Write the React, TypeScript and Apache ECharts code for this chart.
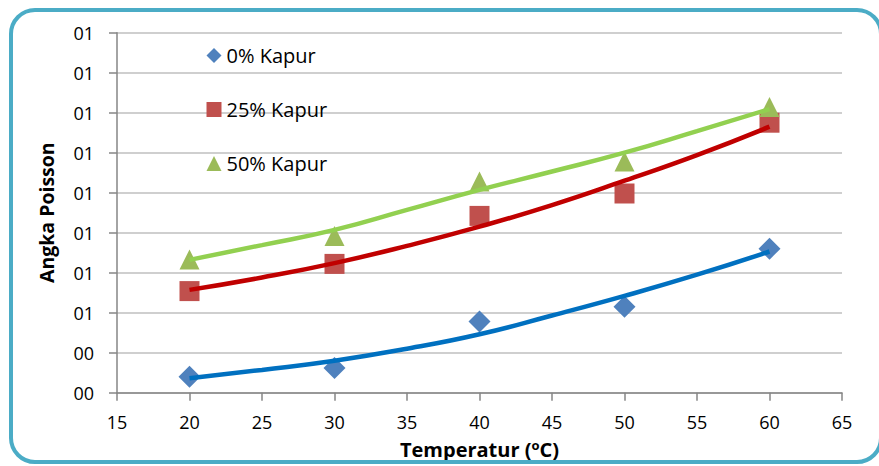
import React, { useEffect, useRef } from "react";
import * as echarts from "echarts";

const temps = [20, 30, 40, 50, 60];
const kapur0 = [0.4, 0.62, 1.78, 2.15, 3.6];
const kapur25 = [2.54, 3.22, 4.42, 4.98, 6.75];
const kapur50 = [3.33, 3.92, 5.28, 5.78, 7.14];

const trendX = [20, 25, 30, 35, 40, 45, 50, 55, 60];
const trend0 = [0.36, 0.57, 0.8, 1.1, 1.46, 1.93, 2.42, 2.95, 3.53];
const trend25 = [2.57, 2.88, 3.24, 3.67, 4.15, 4.69, 5.3, 5.94, 6.65];
const trend50 = [3.32, 3.69, 4.07, 4.57, 5.07, 5.53, 6.0, 6.54, 7.09];

const yTickLabels = ["00", "00", "01", "01", "01", "01", "01", "01", "01", "01"];

const FONT = "Open Sans";

const pairs = (xs: number[], ys: number[]) => xs.map((x, i) => [x, ys[i]]);

export default function App() {
  const ref = useRef<HTMLDivElement>(null);
  useEffect(() => {
    const chart = echarts.init(ref.current!, null, { renderer: "svg" });
    chart.setOption({
      animation: false,
      backgroundColor: "#ffffff",
      textStyle: { fontFamily: FONT },
      grid: { left: 117, right: 37, top: 32.7, bottom: 73.3 },
      legend: {
        orient: "vertical",
        left: 201.5,
        top: 40,
        itemGap: 33,
        itemWidth: 15,
        itemHeight: 15,
        data: [
          { name: "0% Kapur", icon: "diamond" },
          { name: "25% Kapur", icon: "rect" },
          { name: "50% Kapur", icon: "triangle" },
        ],
        textStyle: { fontFamily: FONT, fontSize: 20, lineHeight: 21, color: "#000" },
      },
      graphic: [
        {
          type: "rect",
          shape: { x: 11, y: 10, width: 870, height: 452, r: 24 },
          style: { fill: "none", stroke: "#4BACC6", lineWidth: 4 },
          z: 100,
        },
      ],
      xAxis: {
        type: "value",
        min: 15,
        max: 65,
        interval: 5,
        name: "{a|Temperatur (}{s|o}{a|C)}",
        nameLocation: "middle",
        nameGap: 46,
        nameTextStyle: {
          rich: {
            a: { fontFamily: FONT, fontSize: 20, fontWeight: "bold", color: "#000" },
            s: { fontFamily: FONT, fontSize: 13, fontWeight: "bold", color: "#000", verticalAlign: "top", padding: [0, 0, 8, 0] },
          },
        },
        axisLine: { show: true, lineStyle: { color: "#868686", width: 1.5 } },
        axisTick: { show: true, length: 8, inside: false, lineStyle: { color: "#868686", width: 1.5 } },
        axisLabel: { fontFamily: FONT, fontSize: 18, color: "#000", margin: 20 },
        splitLine: { show: false },
      },
      yAxis: {
        type: "value",
        min: 0,
        max: 9,
        interval: 1,
        name: "Angka Poisson",
        nameLocation: "middle",
        nameGap: 61,
        nameRotate: 90,
        nameTextStyle: { fontFamily: FONT, fontSize: 19.5, fontWeight: "bold", color: "#000" },
        axisLine: { show: true, lineStyle: { color: "#868686", width: 1.5 } },
        axisTick: { show: true, length: 8, lineStyle: { color: "#868686", width: 1.5 } },
        axisLabel: {
          fontFamily: FONT,
          fontSize: 18,
          color: "#000",
          margin: 23,
          formatter: (v: number) => yTickLabels[Math.round(v)] ?? "",
        },
        splitLine: { show: true, lineStyle: { color: "#BFBFBF", width: 1.5 } },
      },
      series: [
        {
          name: "0% Kapur trend",
          type: "line",
          smooth: true,
          symbol: "none",
          data: pairs(trendX, trend0),
          lineStyle: { color: "#0070C0", width: 4.5 },
          z: 3,
        },
        {
          name: "25% Kapur trend",
          type: "line",
          smooth: true,
          symbol: "none",
          data: pairs(trendX, trend25),
          lineStyle: { color: "#C00000", width: 4.5 },
          z: 3,
        },
        {
          name: "50% Kapur trend",
          type: "line",
          smooth: true,
          symbol: "none",
          data: pairs(trendX, trend50),
          lineStyle: { color: "#92D050", width: 4.5 },
          z: 3,
        },
        {
          name: "0% Kapur",
          type: "scatter",
          symbol: "diamond",
          symbolSize: 22,
          data: pairs(temps, kapur0),
          itemStyle: { color: "#4F81BD", opacity: 1 },
          z: 2,
        },
        {
          name: "25% Kapur",
          type: "scatter",
          symbol: "rect",
          symbolSize: 20,
          data: pairs(temps, kapur25),
          itemStyle: { color: "#C0504D", opacity: 1 },
          z: 2,
        },
        {
          name: "50% Kapur",
          type: "scatter",
          symbol: "triangle",
          symbolSize: 20,
          data: pairs(temps, kapur50),
          itemStyle: { color: "#9BBB59", opacity: 1 },
          z: 2,
        },
      ],
    });
    return () => chart.dispose();
  }, []);
  return (
    <div
      ref={ref}
      style={{ position: "absolute", left: 0, top: 0, width: 879, height: 466 }}
    />
  );
}
